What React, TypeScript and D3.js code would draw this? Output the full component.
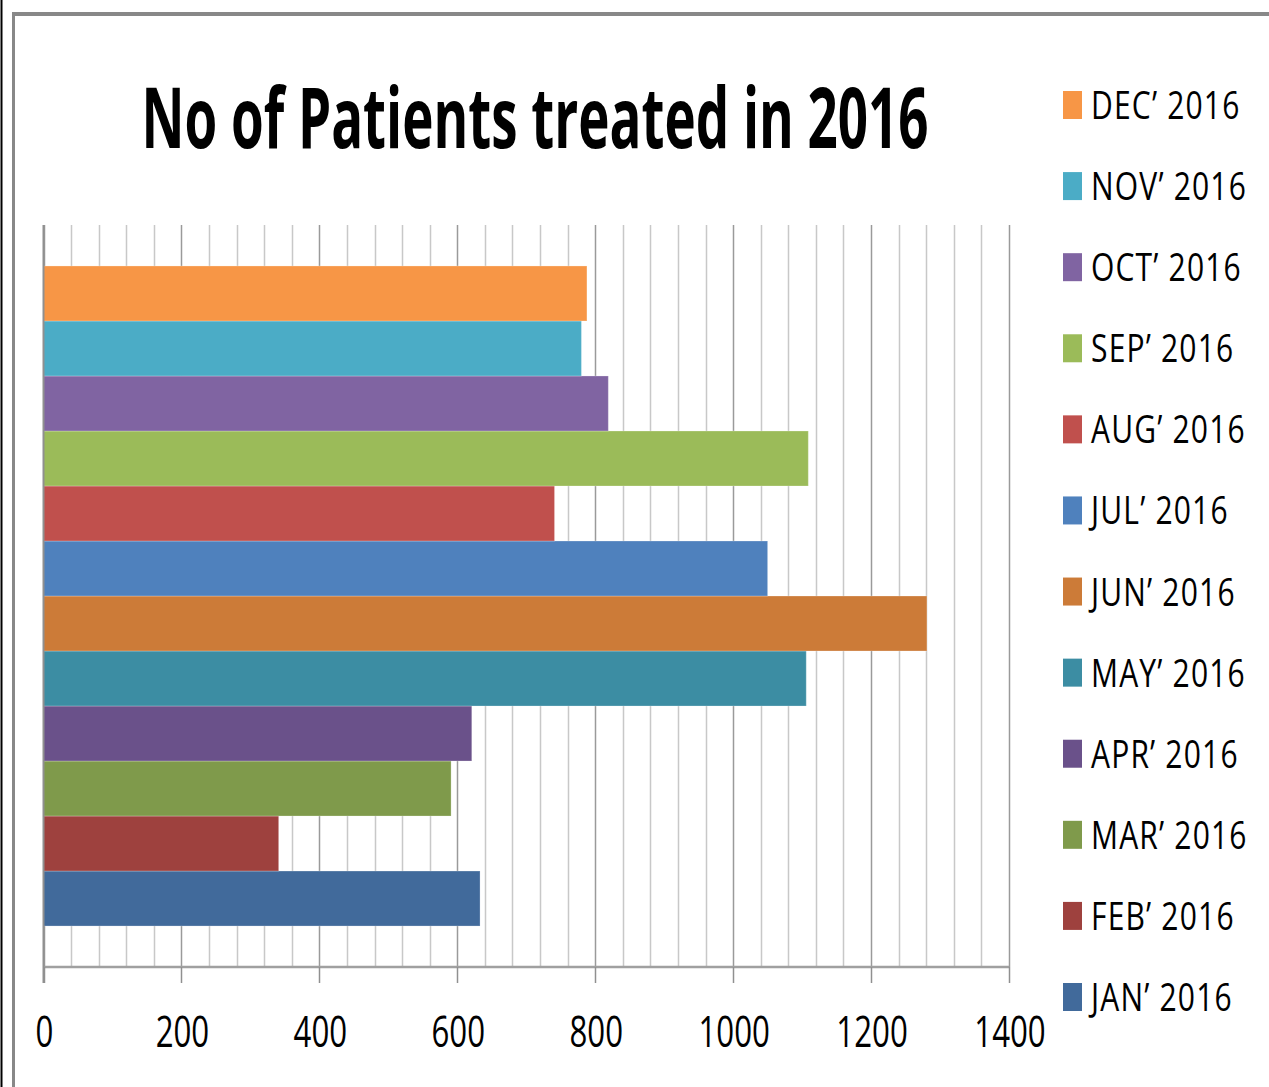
import React, { useEffect, useRef } from "react";
import * as d3 from "d3";

const months = ["JAN’ 2016", "FEB’ 2016", "MAR’ 2016", "APR’ 2016", "MAY’ 2016", "JUN’ 2016", "JUL’ 2016", "AUG’ 2016", "SEP’ 2016", "OCT’ 2016", "NOV’ 2016", "DEC’ 2016"];
const patients = [633, 341, 591, 621, 1106, 1281, 1050, 741, 1109, 819, 780, 788];
const colors = ["#416A9B", "#9E413E", "#7F9A4B", "#6A518A", "#3C8DA3", "#CC7B38", "#4F81BD", "#C0504D", "#9BBB59", "#8064A2", "#4BACC6", "#F79646"];
const xTicks = [0, 200, 400, 600, 800, 1000, 1200, 1400];
const title = "No of Patients treated in 2016";

const W = 1269;
const H = 1087;
const FONT = "'Open Sans', 'Noto Sans', sans-serif";

export default function App() {
  const ref = useRef<SVGSVGElement | null>(null);

  useEffect(() => {
    const svg = d3.select(ref.current);
    svg.selectAll("*").remove();

    // frame
    svg.append("rect").attr("x", 0).attr("y", 0).attr("width", W).attr("height", H).attr("fill", "#fff");
    svg.append("line").attr("x1", 1.5).attr("x2", 1.5).attr("y1", 0).attr("y2", H).attr("stroke", "#000").attr("stroke-width", 2);
    svg.append("line").attr("x1", 13.5).attr("x2", 13.5).attr("y1", 12).attr("y2", H).attr("stroke", "#888").attr("stroke-width", 3);
    svg.append("line").attr("x1", 12).attr("x2", W).attr("y1", 14).attr("y2", 14).attr("stroke", "#888").attr("stroke-width", 4);

    const plotTop = 225;
    const plotBottom = 967;
    const x = d3.scaleLinear().domain([0, 1400]).range([43.5, 1009]);
    const y = d3.scaleBand<string>().domain(months.slice().reverse()).range([plotTop, plotBottom]).paddingInner(0).paddingOuter(0.745);

    // grid
    const minor = d3.range(0, 1401, 40);
    svg.append("g").selectAll("line").data(minor).join("line")
      .attr("x1", (d) => Math.round(x(d)) + 0.5).attr("x2", (d) => Math.round(x(d)) + 0.5)
      .attr("y1", plotTop).attr("y2", plotBottom)
      .attr("stroke", (d) => (d % 200 === 0 ? "#9a9a9a" : "#c8c8c8"))
      .attr("stroke-width", 1.5);

    // bars
    svg.append("g").selectAll("rect").data(months).join("rect")
      .attr("x", x(0)).attr("y", (d) => y(d)!)
      .attr("width", (d, i) => x(patients[i]) - x(0))
      .attr("height", y.bandwidth())
      .attr("fill", (d, i) => colors[i])
      .attr("stroke", "rgba(255,255,255,0.25)").attr("stroke-width", 1);

    // axes
    svg.append("line").attr("x1", x(0)).attr("x2", x(1400)).attr("y1", plotBottom).attr("y2", plotBottom).attr("stroke", "#a0a0a0").attr("stroke-width", 2.5);
    svg.append("line").attr("x1", x(0)).attr("x2", x(0)).attr("y1", plotTop).attr("y2", 983).attr("stroke", "#909090").attr("stroke-width", 2);
    svg.append("g").selectAll("line").data(xTicks).join("line")
      .attr("x1", (d) => Math.round(x(d)) + 0.5).attr("x2", (d) => Math.round(x(d)) + 0.5)
      .attr("y1", plotBottom).attr("y2", 983).attr("stroke", "#909090").attr("stroke-width", 1.5);

    const sx = 0.71;
    svg.append("g").selectAll("text").data(xTicks).join("text")
      .attr("transform", (d) => `translate(${x(d) + 1},1047) scale(${sx},1)`)
      .attr("text-anchor", "middle")
      .attr("font-family", FONT).attr("font-size", 44).attr("fill", "#000")
      .text((d) => String(d));

    // title
    svg.append("text")
      .attr("transform", `translate(535,148) scale(0.63,1)`)
      .attr("text-anchor", "middle")
      .attr("font-family", FONT).attr("font-weight", 700).attr("font-size", 84).attr("fill", "#000")
      .text(title);

    // legend
    const legendOrder = months.slice().reverse();
    const ly = d3.scaleLinear().domain([0, 11]).range([105, 997]);
    const lg = svg.append("g").selectAll("g").data(legendOrder).join("g")
      .attr("transform", (d, i) => `translate(0,${ly(i)})`);
    lg.append("rect").attr("x", 1063).attr("y", -14).attr("width", 19).attr("height", 28)
      .attr("fill", (d) => colors[months.indexOf(d)]);
    lg.append("text")
      .attr("transform", "translate(1091,14) scale(0.79,1)")
      .attr("font-family", FONT).attr("font-size", 38).attr("letter-spacing", 1.5).attr("fill", "#000")
      .text((d) => d);
  }, []);

  return (
    <div style={{ position: "absolute", left: 0, top: 0 }}>
      <svg ref={ref} width={W} height={H} style={{ display: "block" }} />
    </div>
  );
}
